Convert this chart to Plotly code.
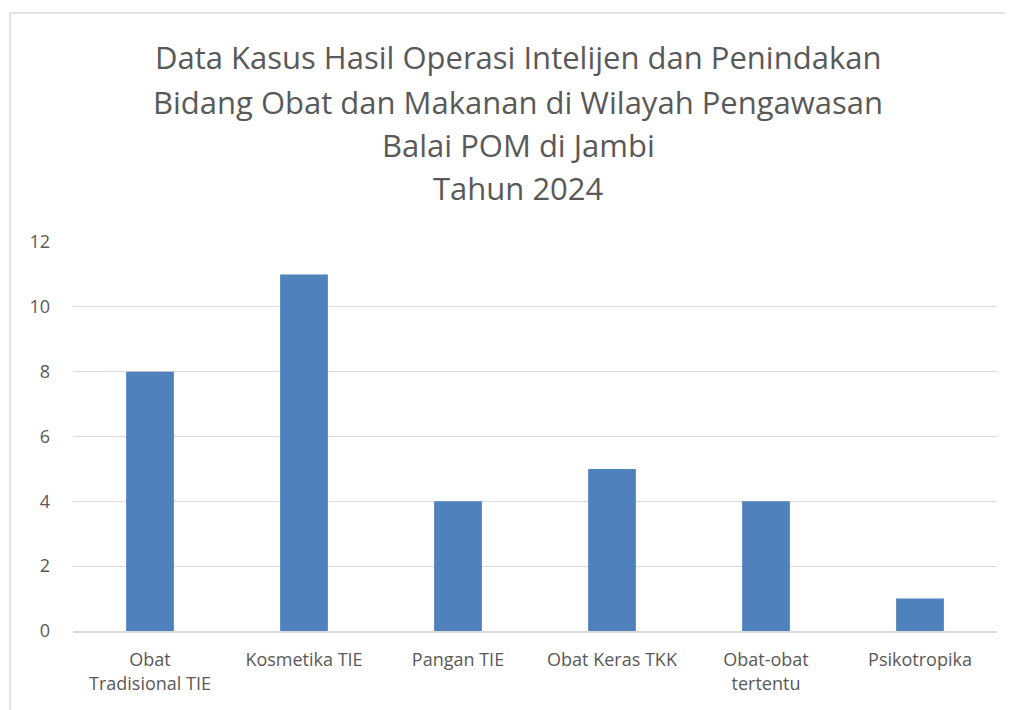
import plotly.graph_objects as go

categories = ["Obat<br>Tradisional TIE", "Kosmetika TIE", "Pangan TIE",
              "Obat Keras TKK", "Obat-obat<br>tertentu", "Psikotropika"]
values = [8, 11, 4, 5, 4, 1]
title_lines = ["Data Kasus Hasil Operasi Intelijen dan Penindakan",
               "Bidang Obat dan Makanan di Wilayah Pengawasan",
               "Balai POM di Jambi",
               "Tahun 2024"]
y_ticks = [0, 2, 4, 6, 8, 10, 12]

OFF = 8  # page body margin
W, H = 1013 - OFF, 710 - OFF
# target page-pixel positions
plot_left, plot_right, plot_top, plot_bottom = 73, 997, 242, 631
L = plot_left - OFF
T = plot_top - OFF
R = W - (plot_right - OFF)
B = H - (plot_bottom - OFF)
plot_h = plot_bottom - plot_top
plot_w = plot_right - plot_left

def py(page_px):
    return 1 + (plot_top - page_px) / plot_h

def pxx(page_px):
    return (page_px - plot_left) / plot_w

fig = go.Figure(go.Bar(x=categories, y=values, marker_color="#4F81BD",
                       marker_line_width=0))

title_y = [57, 102, 145, 188]
annotations = [dict(text=t, x=pxx(518), xref="paper", y=py(yp), yref="paper",
                    showarrow=False, xanchor="center", yanchor="middle",
                    font=dict(size=31, color="#595959", family="Open Sans"))
               for t, yp in zip(title_lines, title_y)]

fig.update_layout(
    width=W, height=H,
    margin=dict(l=L, r=R, t=T, b=B, autoexpand=False),
    paper_bgcolor="white", plot_bgcolor="white",
    bargap=0.69,
    showlegend=False,
    annotations=annotations,
    font=dict(family="Open Sans", color="#595959"),
    shapes=[dict(type="rect", xref="paper", yref="paper",
                 x0=pxx(10), x1=pxx(1030), y0=py(730), y1=py(13),
                 line=dict(color="#D9D9D9", width=1.5), layer="below")],
)
fig.update_yaxes(range=[0, 12], tickvals=y_ticks, showgrid=True,
                 gridcolor="#D9D9D9", gridwidth=1, zeroline=False,
                 showline=False, ticklabelstandoff=22,
                 tickfont=dict(size=18, color="#595959"))
fig.update_xaxes(showline=True, linecolor="#D9D9D9", linewidth=1.5,
                 ticks="", ticklabelstandoff=12,
                 tickfont=dict(size=18, color="#595959"))

fig.write_html("out.html")
